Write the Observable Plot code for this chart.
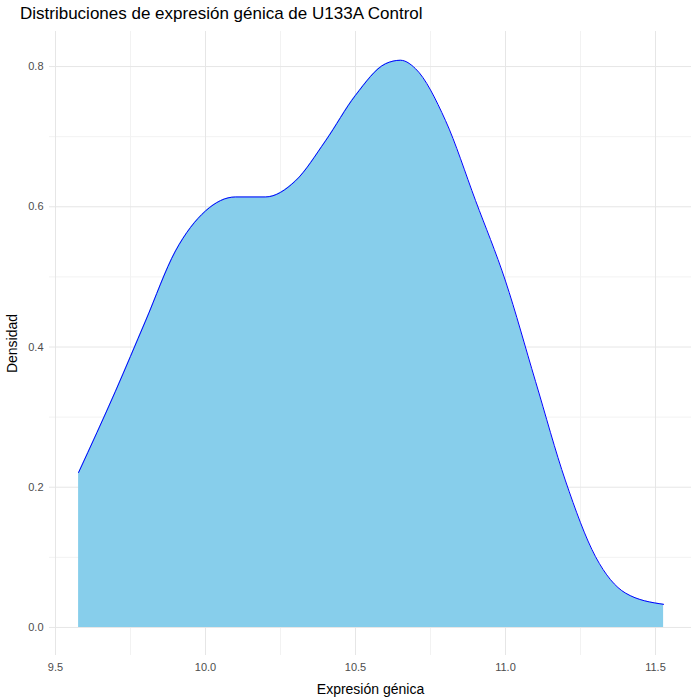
<!DOCTYPE html>
<html>
<head>
<meta charset="utf-8">
<script src="https://cdn.jsdelivr.net/npm/d3@7"></script>
<script src="https://cdn.jsdelivr.net/npm/@observablehq/plot@0.6"></script>
<style>
body{margin:0;background:#fff;font-family:"Liberation Sans",Arial,sans-serif;}
#title{font-size:17px;color:#000;padding:4px 0 0 20px;height:26px;}
</style>
</head>
<body>
<div id="title">Distribuciones de expresión génica de U133A Control</div>
<div id="chart"></div>
<script>
// densidad estimada
const expresion = [9.577, 9.7, 9.8, 9.9, 10.0, 10.1, 10.2, 10.3, 10.4, 10.5, 10.6, 10.65, 10.7, 10.8, 10.9, 11.0, 11.1, 11.2, 11.3, 11.4, 11.527]
const densidad  = [0.221, 0.337, 0.437, 0.537, 0.594, 0.614, 0.614, 0.637, 0.694, 0.759, 0.804, 0.809, 0.797, 0.723, 0.609, 0.494, 0.351, 0.209, 0.101, 0.049, 0.033]
const xTicks = [9.5, 10.0, 10.5, 11.0, 11.5]
const xMinor = [9.75, 10.25, 10.75, 11.25]
const yTicks = [0, 0.2, 0.4, 0.6, 0.8]
const yMinor = [0.1, 0.3, 0.5, 0.7]

const data = expresion.map((x, i) => ({x, y: densidad[i]}))

let chart = Plot.plot({
  width: 700,
  height: 670,
  marginLeft: 49,
  marginRight: 9,
  marginTop: 1,
  marginBottom: 45,
  style: {fontSize: "11px", fontFamily: "Liberation Sans, Arial, sans-serif", color: "#4d4d4d"},
  x: {domain: [9.48, 11.62], ticks: xTicks, tickFormat: d3.format(".1f"), tickSize: 0, tickPadding: 8,
      label: "Expresión génica", labelAnchor: "center", labelArrow: "none", labelOffset: 38},
  y: {domain: [-0.04, 0.85], ticks: yTicks, tickFormat: d3.format(".1f"), tickSize: 0, tickPadding: 6,
      label: "Densidad", labelAnchor: "center", labelArrow: "none", labelOffset: 42},
  marks: [
    Plot.ruleX(xMinor, {stroke: "#f2f2f2"}),
    Plot.ruleY(yMinor, {stroke: "#f2f2f2"}),
    Plot.ruleX(xTicks, {stroke: "#e6e6e6"}),
    Plot.ruleY(yTicks, {stroke: "#e6e6e6"}),
    Plot.areaY(data, {x: "x", y: "y", fill: "#87ceeb", curve: "monotone-x"}),
    Plot.lineY(data, {x: "x", y: "y", stroke: "blue", strokeWidth: 1, curve: "monotone-x"})
  ]
})
d3.select(chart).selectAll("[aria-label='x-axis label'] text, [aria-label='y-axis label'] text")
  .style("font-size", "14px").attr("fill", "#000")
d3.select("#chart").append(() => chart)
</script>
</body>
</html>
